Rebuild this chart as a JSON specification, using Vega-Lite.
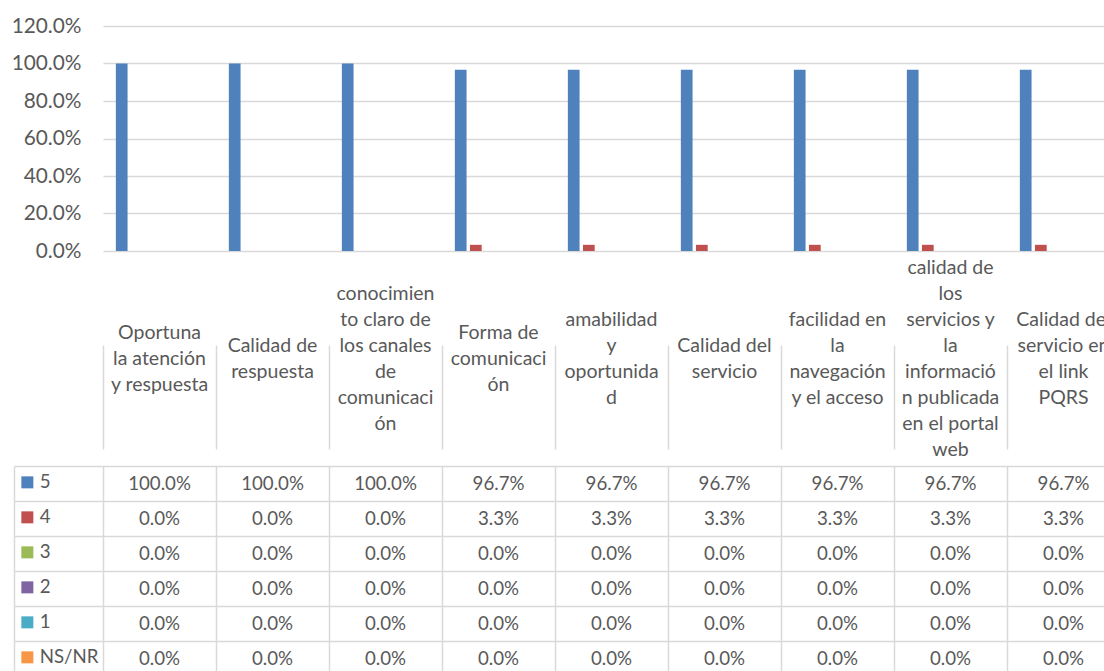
{
  "$schema": "https://vega.github.io/schema/vega-lite/v6.json",
  "padding": {"left": 11, "top": 15, "right": 0, "bottom": 0},
  "spacing": 0,
  "bounds": "flush",
  "config": {
    "view": {"stroke": null},
    "font": "Lato",
    "axis": {"gridColor": "#d9d9d9", "gridWidth": 1.5, "labelFont": "Lato", "labelColor": "#595959"}
  },
  "datasets": {
    "main": [
      {"cat": "Oportuna la atención y respuesta", "serie": "5", "value": 1.0},
      {"cat": "Oportuna la atención y respuesta", "serie": "4", "value": 0.0},
      {"cat": "Oportuna la atención y respuesta", "serie": "3", "value": 0.0},
      {"cat": "Oportuna la atención y respuesta", "serie": "2", "value": 0.0},
      {"cat": "Oportuna la atención y respuesta", "serie": "1", "value": 0.0},
      {"cat": "Oportuna la atención y respuesta", "serie": "NS/NR", "value": 0.0},
      {"cat": "Calidad de respuesta", "serie": "5", "value": 1.0},
      {"cat": "Calidad de respuesta", "serie": "4", "value": 0.0},
      {"cat": "Calidad de respuesta", "serie": "3", "value": 0.0},
      {"cat": "Calidad de respuesta", "serie": "2", "value": 0.0},
      {"cat": "Calidad de respuesta", "serie": "1", "value": 0.0},
      {"cat": "Calidad de respuesta", "serie": "NS/NR", "value": 0.0},
      {"cat": "conocimiento claro de los canales de comunicación", "serie": "5", "value": 1.0},
      {"cat": "conocimiento claro de los canales de comunicación", "serie": "4", "value": 0.0},
      {"cat": "conocimiento claro de los canales de comunicación", "serie": "3", "value": 0.0},
      {"cat": "conocimiento claro de los canales de comunicación", "serie": "2", "value": 0.0},
      {"cat": "conocimiento claro de los canales de comunicación", "serie": "1", "value": 0.0},
      {"cat": "conocimiento claro de los canales de comunicación", "serie": "NS/NR", "value": 0.0},
      {"cat": "Forma de comunicación", "serie": "5", "value": 0.967},
      {"cat": "Forma de comunicación", "serie": "4", "value": 0.033},
      {"cat": "Forma de comunicación", "serie": "3", "value": 0.0},
      {"cat": "Forma de comunicación", "serie": "2", "value": 0.0},
      {"cat": "Forma de comunicación", "serie": "1", "value": 0.0},
      {"cat": "Forma de comunicación", "serie": "NS/NR", "value": 0.0},
      {"cat": "amabilidad y oportunidad", "serie": "5", "value": 0.967},
      {"cat": "amabilidad y oportunidad", "serie": "4", "value": 0.033},
      {"cat": "amabilidad y oportunidad", "serie": "3", "value": 0.0},
      {"cat": "amabilidad y oportunidad", "serie": "2", "value": 0.0},
      {"cat": "amabilidad y oportunidad", "serie": "1", "value": 0.0},
      {"cat": "amabilidad y oportunidad", "serie": "NS/NR", "value": 0.0},
      {"cat": "Calidad del servicio", "serie": "5", "value": 0.967},
      {"cat": "Calidad del servicio", "serie": "4", "value": 0.033},
      {"cat": "Calidad del servicio", "serie": "3", "value": 0.0},
      {"cat": "Calidad del servicio", "serie": "2", "value": 0.0},
      {"cat": "Calidad del servicio", "serie": "1", "value": 0.0},
      {"cat": "Calidad del servicio", "serie": "NS/NR", "value": 0.0},
      {"cat": "facilidad en la navegación y el acceso", "serie": "5", "value": 0.967},
      {"cat": "facilidad en la navegación y el acceso", "serie": "4", "value": 0.033},
      {"cat": "facilidad en la navegación y el acceso", "serie": "3", "value": 0.0},
      {"cat": "facilidad en la navegación y el acceso", "serie": "2", "value": 0.0},
      {"cat": "facilidad en la navegación y el acceso", "serie": "1", "value": 0.0},
      {"cat": "facilidad en la navegación y el acceso", "serie": "NS/NR", "value": 0.0},
      {"cat": "calidad de los servicios y la información publicada en el portal web", "serie": "5", "value": 0.967},
      {"cat": "calidad de los servicios y la información publicada en el portal web", "serie": "4", "value": 0.033},
      {"cat": "calidad de los servicios y la información publicada en el portal web", "serie": "3", "value": 0.0},
      {"cat": "calidad de los servicios y la información publicada en el portal web", "serie": "2", "value": 0.0},
      {"cat": "calidad de los servicios y la información publicada en el portal web", "serie": "1", "value": 0.0},
      {"cat": "calidad de los servicios y la información publicada en el portal web", "serie": "NS/NR", "value": 0.0},
      {"cat": "Calidad del servicio en el link PQRS", "serie": "5", "value": 0.967},
      {"cat": "Calidad del servicio en el link PQRS", "serie": "4", "value": 0.033},
      {"cat": "Calidad del servicio en el link PQRS", "serie": "3", "value": 0.0},
      {"cat": "Calidad del servicio en el link PQRS", "serie": "2", "value": 0.0},
      {"cat": "Calidad del servicio en el link PQRS", "serie": "1", "value": 0.0},
      {"cat": "Calidad del servicio en el link PQRS", "serie": "NS/NR", "value": 0.0}
    ],
    "cats": [
      {"cat": "Oportuna la atención y respuesta", "label": "Oportuna\nla atención\ny respuesta", "lines": 3},
      {"cat": "Calidad de respuesta", "label": "Calidad de\nrespuesta", "lines": 2},
      {"cat": "conocimiento claro de los canales de comunicación", "label": "conocimien\nto claro de\nlos canales\nde\ncomunicaci\nón", "lines": 6},
      {"cat": "Forma de comunicación", "label": "Forma de\ncomunicaci\nón", "lines": 3},
      {"cat": "amabilidad y oportunidad", "label": "amabilidad\ny\noportunida\nd", "lines": 4},
      {"cat": "Calidad del servicio", "label": "Calidad del\nservicio", "lines": 2},
      {"cat": "facilidad en la navegación y el acceso", "label": "facilidad en\nla\nnavegación\ny el acceso", "lines": 4},
      {"cat": "calidad de los servicios y la información publicada en el portal web", "label": "calidad de\nlos\nservicios y\nla\ninformació\nn publicada\nen el portal\nweb", "lines": 8},
      {"cat": "Calidad del servicio en el link PQRS", "label": "Calidad del\nservicio en\nel link\nPQRS", "lines": 4}
    ]
  },
  "vconcat": [
    {
      "width": 1017,
      "height": 225,
      "data": {"name": "main"},
      "mark": {"type": "bar"},
      "encoding": {
        "x": {"field": "cat", "type": "nominal", "sort": null, "scale": {"paddingInner": 0, "paddingOuter": 0}, "axis": null},
        "xOffset": {"field": "serie", "type": "nominal", "sort": ["5", "4", "3", "2", "1", "NS/NR"], "scale": {"paddingInner": 0.225, "paddingOuter": 0.85}},
        "y": {
          "field": "value", "type": "quantitative",
          "scale": {"domain": [0, 1.2]},
          "axis": {"format": ".1%", "values": [0, 0.2, 0.4, 0.6, 0.8, 1.0, 1.2], "grid": true, "domain": false, "ticks": false, "labelFontSize": 20.8, "labelPadding": 22, "title": null}
        },
        "color": {
          "field": "serie", "type": "nominal",
          "sort": ["5", "4", "3", "2", "1", "NS/NR"],
          "scale": {"domain": ["5", "4", "3", "2", "1", "NS/NR"], "range": ["#4f81bd", "#c0504d", "#9bbb59", "#8064a2", "#4bacc6", "#f79646"]},
          "legend": {"orient": "none", "legendX": -85, "legendY": 447, "title": null, "symbolType": "square", "symbolSize": 144, "symbolStrokeWidth": 0, "symbolOpacity": 1, "labelFontSize": 18.7, "labelFont": "Lato", "labelColor": "#595959", "labelOffset": 3, "rowPadding": 15}
        }
      }
    },
    {
      "width": 1017,
      "height": 215,
      "data": {"name": "cats"},
      "mark": {"type": "text", "lineBreak": "\n", "lineHeight": 26, "fontSize": 19.5, "font": "Lato", "color": "#595959", "baseline": "middle", "align": "center"},
      "encoding": {
        "x": {"field": "cat", "type": "nominal", "sort": null, "scale": {"paddingInner": 0, "paddingOuter": 0}, "axis": {"grid": true, "tickBand": "extent", "labels": false, "ticks": false, "domain": false, "title": null}},
        "y": {"field": "lines", "type": "quantitative", "scale": {"domain": [0, 8], "range": [121, 17], "zero": false, "nice": false}, "axis": null},
        "text": {"field": "label"}
      }
    },
    {
      "width": 1017,
      "height": 210,
      "data": {"name": "main"},
      "mark": {"type": "text", "fontSize": 18.7, "font": "Lato", "color": "#595959", "baseline": "middle", "align": "center"},
      "encoding": {
        "x": {"field": "cat", "type": "nominal", "sort": null, "scale": {"paddingInner": 0, "paddingOuter": 0}, "axis": {"grid": true, "tickBand": "extent", "labels": false, "ticks": false, "domain": false, "title": null}},
        "y": {"field": "serie", "type": "nominal", "sort": ["5", "4", "3", "2", "1", "NS/NR"], "scale": {"paddingInner": 0, "paddingOuter": 0}, "axis": {"grid": true, "tickBand": "extent", "labels": false, "ticks": true, "tickSize": -89, "offset": 89, "tickColor": "#d9d9d9", "tickWidth": 1.5, "domain": true, "domainColor": "#d9d9d9", "domainWidth": 1.5, "title": null}},
        "text": {"field": "value", "type": "quantitative", "format": ".1%"}
      }
    }
  ]
}
